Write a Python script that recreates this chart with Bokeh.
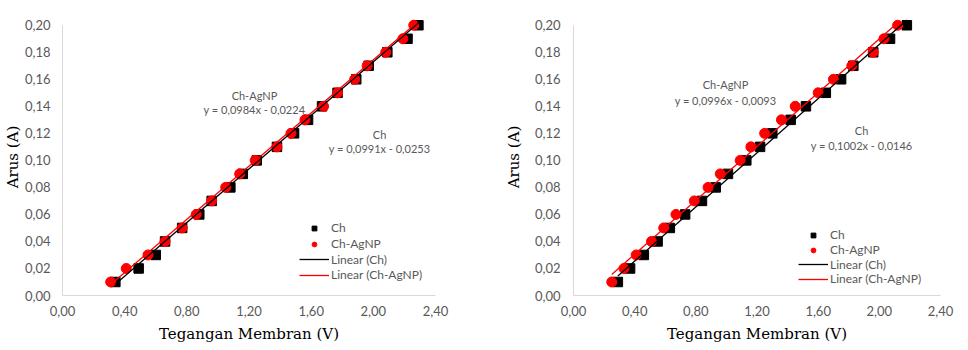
from bokeh.plotting import figure
from bokeh.layouts import row
from bokeh.models import Range1d, FixedTicker, Label, Legend, LegendItem
from bokeh.embed import file_html
from bokeh.resources import INLINE

# ---- data ----
current = [0.01, 0.02, 0.03, 0.04, 0.05, 0.06, 0.07, 0.08, 0.09, 0.10,
           0.11, 0.12, 0.13, 0.14, 0.15, 0.16, 0.17, 0.18, 0.19, 0.20]

left_ch_v = [0.34, 0.49, 0.60, 0.66, 0.77, 0.88, 0.96, 1.08, 1.16, 1.25,
             1.38, 1.49, 1.58, 1.67, 1.77, 1.89, 1.97, 2.09, 2.22, 2.29]
left_ag_v = [0.31, 0.41, 0.55, 0.66, 0.77, 0.86, 0.96, 1.05, 1.14, 1.24,
             1.38, 1.47, 1.56, 1.68, 1.77, 1.88, 1.96, 2.08, 2.19, 2.26]

right_ch_v = [0.29, 0.37, 0.46, 0.55, 0.63, 0.73, 0.84, 0.93, 1.01, 1.13,
              1.22, 1.30, 1.42, 1.52, 1.65, 1.75, 1.83, 1.96, 2.07, 2.18]
right_ag_v = [0.25, 0.33, 0.41, 0.51, 0.59, 0.67, 0.79, 0.88, 0.96, 1.09,
              1.16, 1.25, 1.36, 1.45, 1.60, 1.70, 1.82, 1.96, 2.03, 2.12]

# trendline coefficients (slope, intercept)
left_ch_fit = [0.0991, -0.0253]
left_ag_fit = [0.0984, -0.0224]
right_ch_fit = [0.1002, -0.0146]
right_ag_fit = [0.0996, -0.0093]

left_ch_eq = "y = 0,0991x - 0,0253"
left_ag_eq = "y = 0,0984x - 0,0224"
right_ch_eq = "y = 0,1002x - 0,0146"
right_ag_eq = "y = 0,0996x - 0,0093"

legend_labels = ["Ch", "Ch-AgNP", "Linear (Ch)", "Linear (Ch-AgNP)"]

x_ticks = [0.0, 0.4, 0.8, 1.2, 1.6, 2.0, 2.4]
x_tick_labels = ["0,00", "0,40", "0,80", "1,20", "1,60", "2,00", "2,40"]
y_ticks = [0.0, 0.02, 0.04, 0.06, 0.08, 0.10, 0.12, 0.14, 0.16, 0.18, 0.20]
y_tick_labels = ["0,00", "0,02", "0,04", "0,06", "0,08", "0,10",
                 "0,12", "0,14", "0,16", "0,18", "0,20"]

GREY = "#595959"
SANS = "Lato"
SERIF = "DejaVu Serif"


def trend(xs, fit):
    x0, x1 = min(xs), max(xs)
    return [x0, x1], [fit[0] * x0 + fit[1], fit[0] * x1 + fit[1]]


def make(ch_v, ag_v, ch_fit, ag_fit, ch_eq, ag_eq, cfg):
    p = figure(width=484, height=350, output_backend="svg", toolbar_location=None,
               x_range=Range1d(0, 2.4), y_range=Range1d(0, 0.205),
               min_border_left=cfg["bl"], min_border_right=cfg["br"],
               min_border_top=cfg["bt"], min_border_bottom=cfg["bb"])
    p.outline_line_color = None
    p.grid.grid_line_color = None
    p.background_fill_color = "white"
    p.border_fill_color = "white"

    for ax in (p.xaxis[0], p.yaxis[0]):
        ax.axis_line_color = "#D9D9D9"
        ax.axis_line_width = 1
        ax.major_tick_line_color = None
        ax.minor_tick_line_color = None
        ax.major_tick_in = 0
        ax.major_tick_out = 0
        ax.minor_tick_in = 0
        ax.minor_tick_out = 0
        ax.major_label_text_font = SANS
        ax.major_label_text_font_size = "13px"
        ax.major_label_text_color = GREY
        ax.axis_label_text_font = SERIF
        ax.axis_label_text_font_size = "15px"
        ax.axis_label_text_font_style = "normal"
        ax.axis_label_text_color = "black"

    p.xaxis.ticker = FixedTicker(ticks=x_ticks)
    p.xaxis.major_label_overrides = dict(zip(x_ticks, x_tick_labels))
    p.yaxis.ticker = FixedTicker(ticks=y_ticks)
    p.yaxis.major_label_overrides = dict(zip(y_ticks, y_tick_labels))
    p.yaxis.bounds = (0, 0.2)
    p.xaxis.axis_label = "Tegangan Membran (V)"
    p.yaxis.axis_label = "Arus (A)"
    p.xaxis.major_label_standoff = 10
    p.xaxis.axis_label_standoff = 6
    p.yaxis.major_label_standoff = cfg["ystand"]
    p.yaxis.axis_label_standoff = cfg["ylabstand"]

    sq = p.scatter(ch_v, current, marker="square", size=9.5, color="black")
    ci = p.scatter(ag_v, current, marker="circle", size=10, color="#FF0000")
    tx, ty = trend(ch_v, ch_fit)
    l1 = p.line(tx, ty, line_color="black", line_width=1.3)
    tx, ty = trend(ag_v, ag_fit)
    l2 = p.line(tx, ty, line_color="#FF0000", line_width=1.3)

    # one legend per row, for exact row placement
    for rend, lab, yc in zip([sq, ci, l1, l2], legend_labels, cfg["legy"]):
        legend = Legend(items=[LegendItem(label=lab, renderers=[rend])],
                        location=(cfg["legx"], cfg["fb"] - yc - cfg["legoff"]),
                        padding=0, margin=0,
                        glyph_width=30, glyph_height=12, label_height=12,
                        spacing=0, label_standoff=2,
                        label_text_font=SANS, label_text_font_size="12px",
                        label_text_color=GREY, background_fill_alpha=0,
                        border_line_color=None)
        p.add_layout(legend, "center")

    for (x, y, t) in cfg["labels"](ch_eq, ag_eq):
        p.add_layout(Label(x=x, y=y, text=t, text_align="center",
                           text_baseline="middle", text_font=SANS,
                           text_font_size="11px", text_color=GREY))
    return p


left_cfg = dict(bl=60, br=49, bt=18, bb=53, ystand=12, ylabstand=0, fb=297,
                legx=237, legoff=9, legy=[228.3, 244, 259.6, 275.2],
                labels=lambda ch, ag: [(1.235, 0.148, "Ch-AgNP"), (1.235, 0.1375, ag),
                                       (2.04, 0.119, "Ch"), (2.04, 0.109, ch)])
right_cfg = dict(bl=89, br=28, bt=15, bb=55, ystand=13, ylabstand=9, fb=295,
                 legx=225, legoff=8, legy=[234.3, 249, 263.6, 278.3],
                 labels=lambda ch, ag: [(0.994, 0.156, "Ch-AgNP"), (0.994, 0.144, ag),
                                        (1.884, 0.122, "Ch"), (1.884, 0.111, ch)])

p1 = make(left_ch_v, left_ag_v, left_ch_fit, left_ag_fit, left_ch_eq, left_ag_eq, left_cfg)
p2 = make(right_ch_v, right_ag_v, right_ch_fit, right_ag_fit, right_ch_eq, right_ag_eq, right_cfg)

layout = row(p1, p2)
open("out.html", "w").write(file_html(layout, INLINE))
